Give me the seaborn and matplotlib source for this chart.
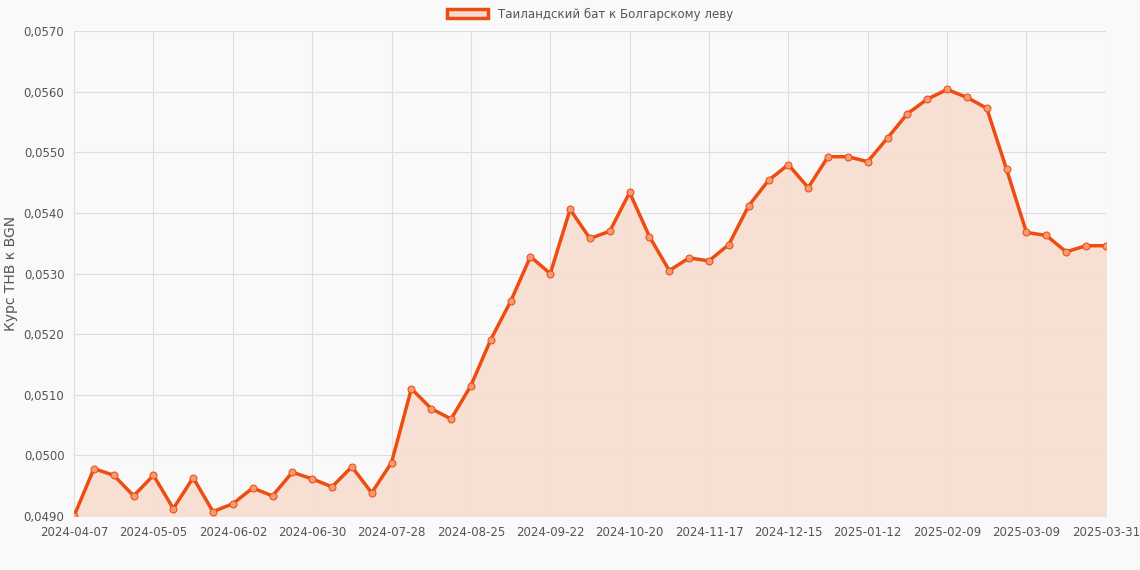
import numpy as np
import pandas as pd
import seaborn as sns
import matplotlib
matplotlib.use("Agg")
import matplotlib.pyplot as plt
from matplotlib.patches import Patch
from matplotlib.ticker import FuncFormatter

dates = list(pd.date_range("2024-04-07", periods=52, freq="7D").strftime("%Y-%m-%d")) + ["2025-03-31"]
rates = [0.04900, 0.04978, 0.04967, 0.04933, 0.04967, 0.04912, 0.04963, 0.04907, 0.04920, 0.04946,
         0.04933, 0.04972, 0.04961, 0.04948, 0.04981, 0.04938, 0.04988, 0.05110, 0.05077, 0.05060,
         0.05115, 0.05191, 0.05254, 0.05328, 0.05300, 0.05406, 0.05358, 0.05370, 0.05434, 0.05361,
         0.05305, 0.05326, 0.05321, 0.05348, 0.05412, 0.05454, 0.05480, 0.05442, 0.05493, 0.05493,
         0.05485, 0.05524, 0.05564, 0.05588, 0.05604, 0.05591, 0.05573, 0.05472, 0.05368, 0.05363,
         0.05336, 0.05346, 0.05346]
label = "Таиландский бат к Болгарскому леву"
color = "#ee4d12"

df = pd.DataFrame({"idx": np.arange(len(rates)), "rate": rates})

sns.set_style("whitegrid")
fig, ax = plt.subplots(figsize=(11.4, 5.7), dpi=100)
fig.patch.set_facecolor("#f9f9f9")
ax.set_facecolor("#f9f9f9")

ax.fill_between(df["idx"], rates, 0.049, color="#f7ddd0", alpha=0.9, zorder=1)
sns.lineplot(data=df, x="idx", y="rate", color=color, linewidth=2.5, marker="o",
             markersize=5, markerfacecolor="#f59a72", markeredgecolor=color, ax=ax, zorder=3)

ax.set_xlim(0, len(rates) - 1)
ax.set_ylim(0.049, 0.057)
ticks = list(range(0, 49, 4)) + [52]
ax.set_xticks(ticks)
ax.set_xticklabels([dates[i] for i in ticks], fontsize=8.5, color="#555")
ax.set_yticks(np.arange(0.049, 0.05701, 0.001))
ax.yaxis.set_major_formatter(FuncFormatter(lambda v, p: f"{v:.4f}".replace(".", ",")))
ax.tick_params(axis="y", labelsize=8.5, labelcolor="#555")
ax.set_xlabel("")
ax.set_ylabel("Курс THB к BGN", fontsize=10, color="#555")
ax.grid(True, color="#dddddd", linewidth=0.8)
for s in ax.spines.values():
    s.set_visible(False)

ax.legend(handles=[Patch(facecolor="#f7ddd0", edgecolor=color, linewidth=2.5, label=label)],
          loc="lower center", bbox_to_anchor=(0.5, 1.0), frameon=False, fontsize=8.5,
          handlelength=3.5, labelcolor="#555")

plt.subplots_adjust(left=0.065, right=0.97, top=0.945, bottom=0.095)
plt.savefig("out.png", dpi=100, facecolor=fig.get_facecolor())
